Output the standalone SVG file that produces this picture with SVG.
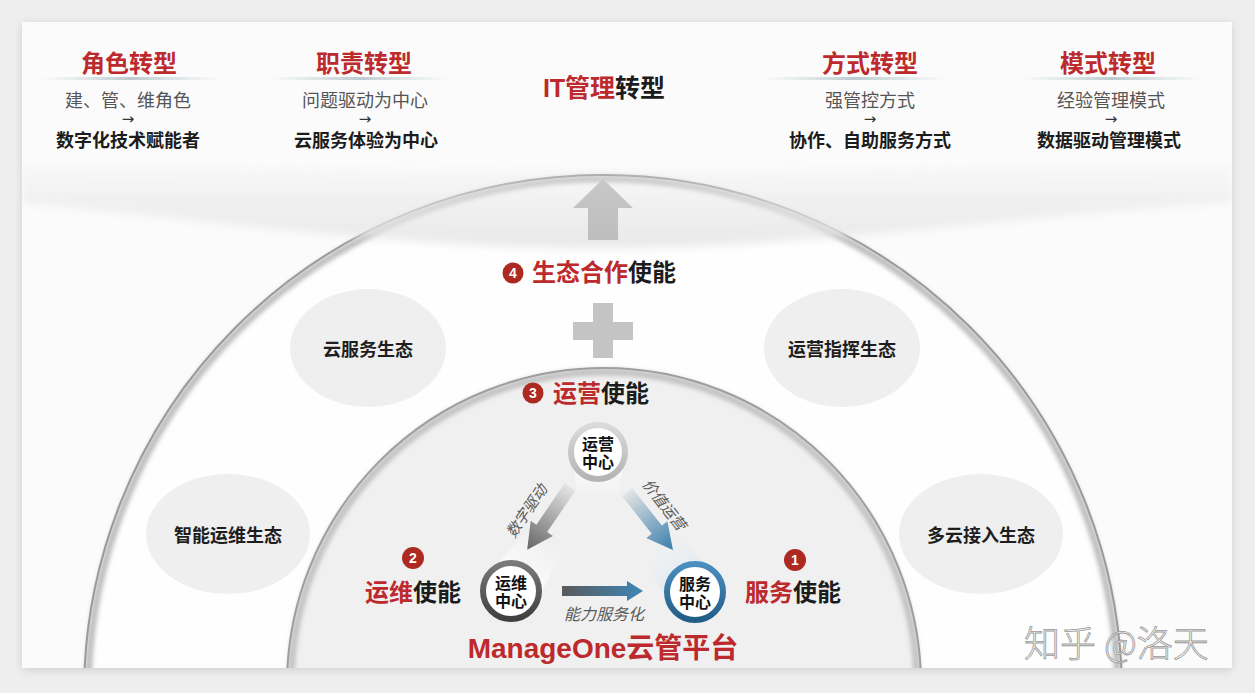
<svg xmlns="http://www.w3.org/2000/svg" width="1255" height="693" viewBox="0 0 1255 693">
<defs>
<style>
.t{font-family:"Liberation Sans","Noto Sans CJK SC",sans-serif}
.red{fill:#bd2a2d}
.blk{fill:#1c1c1c}
.h{font-size:24px;font-weight:700;text-anchor:middle}
.sub{font-size:18px;fill:#555;text-anchor:middle}
.bold{font-size:18px;font-weight:700;fill:#1c1c1c;text-anchor:middle}
.arr{font-family:"DejaVu Sans",sans-serif;font-size:15px;fill:#333;text-anchor:middle}
.eco{fill:#efefef}
.ecot{font-size:18px;font-weight:700;fill:#1e1e1e;text-anchor:middle}
.en{font-size:24px;font-weight:700}
.num{fill:#ad2a22}
.numt{font-family:"Liberation Sans",sans-serif;font-size:14px;font-weight:700;fill:#fff;text-anchor:middle}
.ct{font-size:16px;font-weight:700;fill:#111;text-anchor:middle}
.lab{font-size:15px;font-style:italic;fill:#5a5a5a;text-anchor:middle}
.uline{fill:url(#ul)}
.gshape{fill:#c4c4c4}
</style>
<filter id="shadow" x="-5%" y="-5%" width="110%" height="110%">
<feGaussianBlur stdDeviation="4"/>
</filter>
<filter id="blur2" x="-10%" y="-10%" width="120%" height="120%">
<feGaussianBlur stdDeviation="2.2"/>
</filter>
<filter id="blur4" x="-20%" y="-50%" width="140%" height="200%">
<feGaussianBlur stdDeviation="4"/>
</filter>
<clipPath id="card"><rect x="22" y="22" width="1210" height="646"/></clipPath>
<linearGradient id="ul" x1="0" y1="0" x2="1" y2="0">
<stop offset="0" stop-color="#c9d6d8" stop-opacity="0"/>
<stop offset="0.5" stop-color="#bccbcf"/>
<stop offset="1" stop-color="#c9d6d8" stop-opacity="0"/>
</linearGradient>
<linearGradient id="band" x1="0" y1="150" x2="0" y2="250" gradientUnits="userSpaceOnUse">
<stop offset="0" stop-color="#e8e8e8" stop-opacity="0"/>
<stop offset="0.55" stop-color="#e8e8e8" stop-opacity="0.6"/>
<stop offset="1" stop-color="#e4e4e4" stop-opacity="0.85"/>
</linearGradient>
<linearGradient id="upg" x1="0" y1="179" x2="0" y2="240" gradientUnits="userSpaceOnUse">
<stop offset="0" stop-color="#c8c8c8"/>
<stop offset="1" stop-color="#bdbdbd"/>
</linearGradient>
<linearGradient id="gLeft" x1="0" y1="0" x2="76" y2="0" gradientUnits="userSpaceOnUse">
<stop offset="0" stop-color="#e4e4e4"/>
<stop offset="1" stop-color="#666"/>
</linearGradient>
<linearGradient id="gRight" x1="0" y1="0" x2="74" y2="0" gradientUnits="userSpaceOnUse">
<stop offset="0" stop-color="#e4e4e4"/>
<stop offset="1" stop-color="#3a7eab"/>
</linearGradient>
<linearGradient id="gHor" x1="562" y1="0" x2="643" y2="0" gradientUnits="userSpaceOnUse">
<stop offset="0" stop-color="#5a5a5a"/>
<stop offset="1" stop-color="#3e86b8"/>
</linearGradient>
<linearGradient id="ringGray" x1="0" y1="0" x2="0" y2="1">
<stop offset="0" stop-color="#dadada"/>
<stop offset="1" stop-color="#b4b4b4"/>
</linearGradient>
<linearGradient id="ringDark" x1="0" y1="0" x2="0" y2="1">
<stop offset="0" stop-color="#7a7a7a"/>
<stop offset="1" stop-color="#404040"/>
</linearGradient>
<linearGradient id="ringBlue" x1="0" y1="0" x2="0" y2="1">
<stop offset="0" stop-color="#4a8fbf"/>
<stop offset="1" stop-color="#225d86"/>
</linearGradient>
<linearGradient id="beam" x1="0" y1="0" x2="1" y2="0">
<stop offset="0" stop-color="#ffffff" stop-opacity="0.95"/>
<stop offset="1" stop-color="#ffffff" stop-opacity="0"/>
</linearGradient>
<linearGradient id="beamBlue" x1="0" y1="0" x2="1" y2="0">
<stop offset="0" stop-color="#d6e6f1" stop-opacity="0.95"/>
<stop offset="1" stop-color="#e8f0f6" stop-opacity="0"/>
</linearGradient>
</defs>

<!-- page and card -->
<rect x="0" y="0" width="1255" height="693" fill="#eeeeee"/>
<rect x="22" y="24" width="1210" height="646" fill="#cfcfcf" filter="url(#shadow)"/>
<rect x="22" y="22" width="1210" height="646" fill="#fbfbfb"/>

<!-- arches -->
<g id="arches" clip-path="url(#card)">
<circle cx="603" cy="694" r="519" fill="#fefefe"/>
<circle cx="603" cy="694" r="515" fill="none" stroke="#bdbdbd" stroke-width="7" filter="url(#blur2)"/>
<circle cx="603" cy="694" r="519" fill="none" stroke="#9a9a9a" stroke-width="2"/>
<circle cx="604" cy="685" r="317" fill="#f0f0f0"/>
<circle cx="604" cy="685" r="313" fill="none" stroke="#c2c2c2" stroke-width="7" filter="url(#blur2)"/>
<circle cx="604" cy="685" r="317" fill="none" stroke="#9e9e9e" stroke-width="2"/>
<path d="M22,165 C300,172 900,172 1232,165 L1232,202 C950,222 800,248 603,248 C400,248 260,225 22,203 Z" fill="url(#band)" filter="url(#blur4)"/>
</g>

<!-- top headers -->
<g id="role" class="t">
<text x="129" y="72" class="h red">角色转型</text>
<rect x="40" y="77" width="183" height="3" class="uline"/>
<text x="128" y="107" class="sub" textLength="126" lengthAdjust="spacing">建、管、维角色</text>
<text x="128" y="124" class="arr">→</text>
<text x="128" y="147" class="bold">数字化技术赋能者</text>
</g>
<g id="duty" class="t">
<text x="364" y="72" class="h red">职责转型</text>
<rect x="268" y="77" width="182" height="3" class="uline"/>
<text x="365" y="107" class="sub">问题驱动为中心</text>
<text x="365" y="124" class="arr">→</text>
<text x="366" y="147" class="bold">云服务体验为中心</text>
</g>
<g id="it" class="t">
<text x="604" y="97" class="h" style="font-size:25px"><tspan class="red">IT管理</tspan><tspan class="blk">转型</tspan></text>
</g>
<g id="way" class="t">
<text x="870" y="72" class="h red">方式转型</text>
<rect x="762" y="77" width="186" height="3" class="uline"/>
<text x="870" y="107" class="sub">强管控方式</text>
<text x="870" y="124" class="arr">→</text>
<text x="870" y="147" class="bold">协作、自助服务方式</text>
</g>
<g id="mode" class="t">
<text x="1108" y="72" class="h red">模式转型</text>
<rect x="1020" y="77" width="184" height="3" class="uline"/>
<text x="1111" y="107" class="sub">经验管理模式</text>
<text x="1111" y="124" class="arr">→</text>
<text x="1109" y="147" class="bold">数据驱动管理模式</text>
</g>

<!-- big up arrow and plus -->
<g id="up-arrow"><path d="M603,179 L633,208 L618,208 L618,240 L588,240 L588,208 L573,208 Z" fill="url(#upg)"/></g>
<g id="plus"><path d="M593,303 h20 v19 h20 v18 h-20 v18 h-20 v-18 h-20 v-18 h20 z" class="gshape"/></g>

<!-- enabling labels -->
<g id="en4" class="t">
<circle cx="513" cy="273" r="10.5" class="num"/>
<text x="513" y="278" class="numt">4</text>
<text x="532" y="281" class="en"><tspan class="red">生态合作</tspan><tspan class="blk">使能</tspan></text>
</g>
<g id="en3" class="t">
<circle cx="533" cy="393" r="10.5" class="num"/>
<text x="533" y="398" class="numt">3</text>
<text x="553" y="402" class="en"><tspan class="red">运营</tspan><tspan class="blk">使能</tspan></text>
</g>
<g id="en2" class="t">
<circle cx="413" cy="558" r="11" class="num"/>
<text x="413" y="563" class="numt">2</text>
<text x="365" y="601" class="en"><tspan class="red">运维</tspan><tspan class="blk">使能</tspan></text>
</g>
<g id="en1" class="t">
<circle cx="795" cy="560" r="11" class="num"/>
<text x="795" y="565" class="numt">1</text>
<text x="745" y="601" class="en"><tspan class="red">服务</tspan><tspan class="blk">使能</tspan></text>
</g>

<!-- ecosystem ellipses -->
<g id="eco-cloud" class="t">
<ellipse cx="368" cy="348" rx="78" ry="59" class="eco"/>
<text x="368" y="356" class="ecot">云服务生态</text>
</g>
<g id="eco-ops-cmd" class="t">
<ellipse cx="842" cy="348" rx="78" ry="59" class="eco"/>
<text x="842" y="356" class="ecot">运营指挥生态</text>
</g>
<g id="eco-aiops" class="t">
<ellipse cx="228" cy="534" rx="82" ry="60" class="eco"/>
<text x="228" y="542" class="ecot">智能运维生态</text>
</g>
<g id="eco-multicloud" class="t">
<ellipse cx="981" cy="534" rx="82" ry="60" class="eco"/>
<text x="981" y="542" class="ecot">多云接入生态</text>
</g>

<!-- beams -->
<g id="beams">
<path d="M0,-28 L62,-20 L62,20 L0,28 Z" fill="url(#beam)" transform="translate(511,591) rotate(-56)"/>
<path d="M0,-28 L62,-20 L62,20 L0,28 Z" fill="url(#beamBlue)" transform="translate(695,592) rotate(-128)"/>
<path d="M0,-26 L50,-20 L50,20 L0,26 Z" fill="url(#beam)" transform="translate(598,452) rotate(90)"/>
</g>

<!-- connectors -->
<g id="connectors" class="t">
<path d="M0,-6.5 L50,-6.5 L50,-13.5 L76,0 L50,13.5 L50,6.5 L0,6.5 Z" fill="url(#gLeft)" transform="translate(570,487) rotate(124.3)"/>
<path d="M0,-6.5 L48,-6.5 L48,-13.5 L74,0 L48,13.5 L48,6.5 L0,6.5 Z" fill="url(#gRight)" transform="translate(627,492) rotate(51.6)"/>
<path d="M562,586 L627,586 L627,581 L643,591 L627,601 L627,596 L562,596 Z" fill="url(#gHor)"/>
<text class="lab" transform="translate(531,514) rotate(-56)">数字驱动</text>
<text class="lab" transform="translate(660,508) rotate(52)">价值运营</text>
<text x="604" y="620" class="lab" style="font-size:16px">能力服务化</text>
</g>

<!-- centers -->
<g id="ops-center" class="t">
<circle cx="598" cy="452" r="27" fill="#fff" stroke="url(#ringGray)" stroke-width="6"/>
<text x="598" y="450" class="ct">运营</text>
<text x="598" y="468" class="ct">中心</text>
</g>
<g id="om-center" class="t">
<circle cx="511" cy="591" r="28" fill="#fff" stroke="url(#ringDark)" stroke-width="6"/>
<text x="511" y="589" class="ct">运维</text>
<text x="511" y="607" class="ct">中心</text>
</g>
<g id="svc-center" class="t">
<circle cx="695" cy="592" r="28" fill="#fff" stroke="url(#ringBlue)" stroke-width="6"/>
<text x="695" y="590" class="ct">服务</text>
<text x="695" y="608" class="ct">中心</text>
</g>

<!-- platform title -->
<g id="platform" class="t">
<text x="603" y="658" class="red" style="font-size:28px;font-weight:700;text-anchor:middle">ManageOne云管平台</text>
</g>

<!-- watermark -->
<g id="watermark">
<text x="1024" y="657" style="font-family:'Noto Sans CJK SC',sans-serif;font-size:36px;font-weight:300;fill:#f6f6f6;stroke:#9a9a9a;stroke-width:0.8">知乎 @洛天</text>
</g>
</svg>
